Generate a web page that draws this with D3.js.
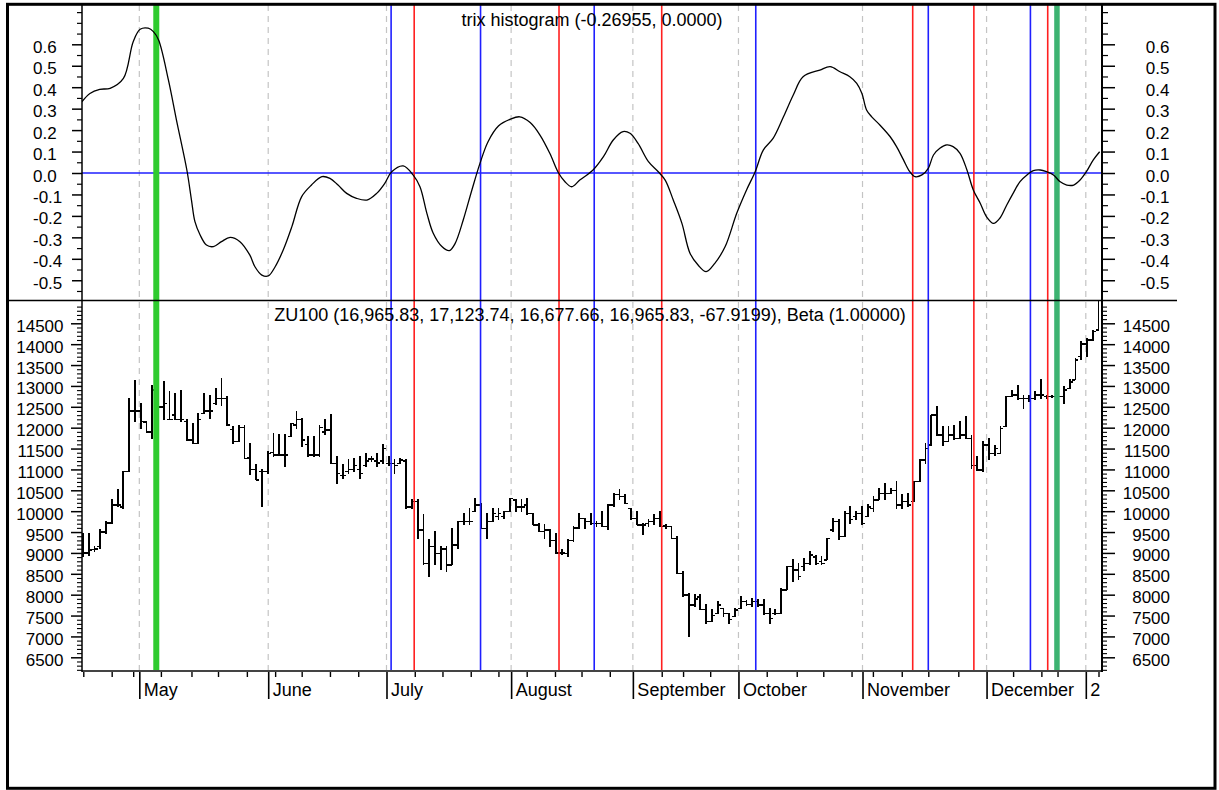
<!DOCTYPE html>
<html><head><meta charset="utf-8">
<script src="https://cdn.jsdelivr.net/npm/d3@7/dist/d3.min.js"></script>
<style>
html,body{margin:0;padding:0;background:#fff;}
svg{display:block;font-family:"Liberation Sans",Arial,sans-serif;}
</style></head><body>
<svg id="chart" width="1219" height="790"></svg>
<script>
// ---------- DATA ----------
const opens = [9400,9000,9080,9150,9500,9720,10150,10100,10950,12400,
12400,12140,11900,12900,12500,12200,12300,12200,12150,11700,
11625,12344,12400,12580,12700,12700,11960,11665,12000,11270,
11000,10950,10950,11400,11350,11350,11785,12064,12200,11600,
11346,11346,11900,11950,11146,10850,10950,11000,11000,11100,
11250,11200,11200,11146,11146,11146,11200,10100,10229,9550,
8752,9151,8991,9100,8712,9191,9750,9750,9990,10149,
9590,9750,9870,9870,9990,10269,10100,10150,9950,9670,
9510,9550,9300,9000,8991,9300,9600,9830,9750,9700,
9700,9630,10149,10400,10350,10069,9830,9670,9700,9750,
9830,9650,9630,9350,8513,7993,7754,7950,7650,7355,
7554,7674,7554,7474,7674,7834,7760,7833,7753,7554,
7554,7554,8112,8671,8591,8671,8750,8900,8800,8831,
9550,9750,9390,9950,9870,9950,9868,10068,10268,10427,
10427,10500,10148,10228,10228,10707,11226,11585,12303,11824,
11665,11825,11745,11825,11745,11100,10986,11585,11385,11385,
12024,12743,12782,12703,12703,12703,12782,12743,12743,12743,
12743,12942,13142,13700,14000,14100,14339];
const highs = [9470,9470,9150,9550,9750,10270,10510,10950,12700,13140,
12580,12140,13020,13050,13100,12860,12820,12900,12185,12105,
12344,12820,12780,12940,13180,12743,12024,12064,12064,11625,
11107,10987,11426,11865,11825,11825,12105,12384,12224,11785,
11785,12064,12184,12304,11306,11107,11226,11266,11306,11386,
11306,11386,11586,11300,11226,11266,11226,10268,10269,9909,
9311,9510,9151,9151,9590,9750,9950,10069,10309,10189,
9950,10069,10069,9990,10309,10269,10269,10309,9950,9710,
9670,9550,9470,9071,9311,9630,9950,9830,9950,9750,
9990,10149,10429,10508,10389,10069,9990,9710,9790,9910,
9990,9670,9630,9390,8553,8033,7993,7993,7754,7634,
7834,7674,7554,7674,7953,7850,7913,7873,7873,7673,
7633,8152,8671,8831,8751,8871,9030,8950,8911,9350,
9829,9789,9988,10108,9988,10108,10148,10348,10547,10667,
10547,10707,10388,10427,10707,11226,11625,12303,12503,12024,
12024,12064,12144,12264,11824,11306,11665,11745,11585,12024,
12743,12902,13022,12782,12782,12862,13142,12782,12760,12760,
12982,13142,13660,14060,14139,14339,17124];
const lows = [8911,8950,9030,9110,9470,9710,10110,10070,10950,12140,
11985,11900,11745,12150,12185,12185,12185,12144,11700,11625,
11625,12344,12224,12560,12543,12064,11625,11665,11266,10867,
10747,10108,10907,11306,11346,11067,11785,11985,11545,11306,
11306,11306,11825,11146,10667,10787,10907,10947,10787,11067,
11186,11067,11146,11100,10907,11146,10069,10069,9350,8712,
8433,8712,8592,8552,8712,9111,9670,9670,9989,9590,
9350,9750,9790,9830,9990,9990,9990,9910,9670,9510,
9350,9151,8991,8952,8911,9271,9590,9590,9670,9630,
9630,9550,10109,10269,10189,9790,9670,9430,9630,9670,
9630,9590,9350,8513,7953,6996,7714,7634,7315,7355,
7554,7474,7315,7474,7674,7740,7713,7713,7514,7314,
7514,7554,8112,8312,8352,8591,8711,8711,8711,8831,
9509,9310,9390,9709,9789,9669,9868,9988,10268,10268,
10427,10068,10068,10108,10228,10707,11146,11585,11824,11585,
11665,11705,11745,11745,11026,10986,10946,11226,11345,11385,
12024,12743,12663,12463,12623,12663,12703,12703,12720,12700,
12583,12942,13142,13621,13700,14100,14339];
const closes = [9000,9071,9100,9500,9720,10150,10150,10950,12400,12400,
12144,11900,12900,12500,12583,12200,12200,12200,11700,11625,
12200,12400,12400,12700,12700,12070,11665,12000,11266,11000,
10747,10950,11386,11346,11350,11346,12105,12200,11700,11346,
11346,12000,11950,11146,10900,10850,11000,11100,10900,11200,
11250,11150,11500,11146,11100,11226,10100,10229,9550,8752,
9151,8991,9100,8712,9191,9750,9750,9750,10149,9590,
9750,9950,9950,9990,10309,10100,10100,9950,9670,9510,
9550,9300,9000,9000,9300,9600,9830,9750,9700,9700,
9630,10149,10400,10350,10189,9830,9670,9670,9750,9830,
9630,9630,9350,8513,7993,7754,7900,7650,7355,7500,
7754,7550,7400,7634,7834,7760,7833,7753,7554,7434,
7554,8112,8671,8591,8431,8751,8950,8750,8750,9350,
9750,9390,9950,9800,9950,9700,10100,10268,10427,10427,
10500,10148,10228,10148,10707,11226,11500,12303,11824,11665,
11825,11745,11825,11745,11100,10986,11585,11385,11500,11985,
12743,12782,12703,12703,12703,12782,12782,12743,12743,12743,
12900,13100,13620,14000,14100,14300,16966];

// TRIX histogram curve: bar position (trading-day index) and value
const trixIdx = [-0.2,1.2,2.9,4.7,7.0,8.7,9.9,11.3,12.2,13.1,
14.8,16.2,18.0,18.8,19.4,20.3,21.4,22.6,24.0,25.5,
27.2,28.9,29.8,31.0,32.1,33.3,34.7,36.2,37.9,39.6,
41.4,42.8,44.2,45.7,47.4,49.2,50.9,52.3,53.5,55.5,
57.2,58.4,59.6,60.7,62.2,63.5,64.5,65.9,67.4,68.8,
70.2,72.0,74.0,75.7,77.5,79.2,80.9,82.4,83.5,84.7,
86.1,88.4,90.2,91.9,93.6,94.8,96.2,98.0,99.7,100.9,
102.3,103.8,105.2,106.6,108.0,109.5,111.3,113.3,115.0,116.5,
117.9,119.6,121.4,123.1,124.8,127.7,129.5,131.2,132.9,134.1,
135.0,135.8,136.7,138.1,139.9,141.0,142.2,143.3,144.2,145.4,
146.5,147.4,148.5,149.7,150.8,152.0,153.2,154.3,155.5,156.6,
157.8,158.9,160.1,161.2,162.4,163.6,164.7,165.9,167.0,168.2,
169.3,170.5,171.7,172.8,173.9,175.1,176.2];
const trixVal = [0.332,0.371,0.39,0.395,0.441,0.612,0.67,0.675,0.659,0.62,
0.434,0.247,0.014,-0.126,-0.227,-0.289,-0.336,-0.343,-0.32,-0.30,
-0.32,-0.382,-0.437,-0.476,-0.48,-0.437,-0.359,-0.25,-0.11,-0.056,
-0.017,-0.025,-0.056,-0.095,-0.118,-0.126,-0.095,-0.048,0.006,0.033,
-0.009,-0.064,-0.188,-0.281,-0.343,-0.362,-0.328,-0.219,-0.079,0.045,
0.146,0.219,0.25,0.262,0.235,0.177,0.092,0.001,-0.04,-0.064,
-0.033,0.014,0.076,0.154,0.193,0.185,0.138,0.053,0.006,-0.033,
-0.126,-0.235,-0.374,-0.429,-0.46,-0.421,-0.343,-0.188,-0.079,0.006,
0.107,0.161,0.262,0.364,0.449,0.48,0.496,0.472,0.449,0.418,
0.371,0.294,0.262,0.224,0.169,0.123,0.061,0.006,-0.017,-0.009,
0.022,0.084,0.115,0.131,0.123,0.092,0.014,-0.079,-0.141,-0.204,
-0.235,-0.211,-0.149,-0.095,-0.04,-0.009,0.011,0.014,0.006,-0.009,
-0.04,-0.056,-0.056,-0.033,0.006,0.061,0.099];

// signal markers (bar index)
const blueSignals = [53.4, 68.9, 88.6, 116.6, 146.5, 164.2];
const redSignals = [57.4, 82.5, 100.3, 143.8, 154.4, 167.2];
const limeSignals = [12.7];
const seaSignals = [168.8];

// time axis
const monthIdx = [9.76, 32.1, 52.6, 74.2, 95.3, 113.6, 135.1, 156.6, 173.8];
const monthNames = ["May","June","July","August","September","October","November","December","2"];
const weekIdx = [0.05,4.97,8.7,13.5,18.8,23.4,28.4,33.3,37.9,42.8,47.7,57.5,62.3,67.2,72.0,76.9,81.8,86.4,91.3,100.3,104.0,108.7,118.5,123.7,128.3,133.2,136.9,141.9,146.5,151.7,161.2,166.1,168.9,176.0];

// value axes
const trixTicks = [-0.5,-0.4,-0.3,-0.2,-0.1,0.0,0.1,0.2,0.3,0.4,0.5,0.6];
const trixMinor = [-0.55,-0.45,-0.35,-0.25,-0.15,-0.05,0.05,0.15,0.25,0.35,0.45,0.55,0.65,0.7,0.75];
const priceTicks = [6500,7000,7500,8000,8500,9000,9500,10000,10500,11000,11500,12000,12500,13000,13500,14000,14500];
const priceMinorStep = 100;

const topTitle = "trix histogram (-0.26955, 0.0000)";
const botTitle = "ZU100 (16,965.83, 17,123.74, 16,677.66, 16,965.83, -67.9199), Beta (1.00000)";

// ---------- LAYOUT ----------
const W = 1219, H = 790;
const L = 82, R = 1102, T = 5, MID = 300.5, B = 671;
const svg = d3.select("#chart");
const x = d3.scaleLinear().domain([0, 176]).range([83, 1098.5]);
const yT = d3.scaleLinear().domain([-0.5, 0.6]).range([280.25, 44.3]);
const yP = d3.scaleLinear().domain([6500, 14500]).range([657.3, 323.3]);

svg.append("rect").attr("width", W).attr("height", H).attr("fill", "#fff");
const defs = svg.append("defs");
defs.append("clipPath").attr("id", "clipTop").append("rect")
  .attr("x", L).attr("y", T).attr("width", R - L).attr("height", MID - T);
defs.append("clipPath").attr("id", "clipBot").append("rect")
  .attr("x", L).attr("y", MID + 0.5).attr("width", R - L).attr("height", B - MID - 0.5);

// month dashed lines
svg.append("g").selectAll("line").data(monthIdx).join("line")
  .attr("x1", d => x(d)).attr("x2", d => x(d)).attr("y1", T).attr("y2", B)
  .attr("stroke", "#c4c4c4").attr("stroke-width", 1.2).attr("stroke-dasharray", "6,5");

// OHLC bars
const idx = d3.range(closes.length);
const gb = svg.append("g").attr("clip-path", "url(#clipBot)").attr("stroke", "#000").attr("shape-rendering", "crispEdges");
gb.selectAll("line.v").data(idx).join("line").attr("class", "v")
  .attr("x1", i => x(i)).attr("x2", i => x(i))
  .attr("y1", i => yP(highs[i]) - 0.5).attr("y2", i => yP(lows[i]) + 0.5)
  .attr("stroke-width", 1.8);
gb.selectAll("line.o").data(idx).join("line").attr("class", "o")
  .attr("x1", i => x(i) - 3).attr("x2", i => x(i))
  .attr("y1", i => yP(opens[i])).attr("y2", i => yP(opens[i]))
  .attr("stroke-width", 1.5);
gb.selectAll("line.c").data(idx).join("line").attr("class", "c")
  .attr("x1", i => x(i)).attr("x2", i => x(i) + 3)
  .attr("y1", i => yP(closes[i])).attr("y2", i => yP(closes[i]))
  .attr("stroke-width", 1.5);

// zero line
svg.append("line").attr("x1", L).attr("x2", R).attr("y1", yT(0)).attr("y2", yT(0))
  .attr("stroke", "#1f1fff").attr("stroke-width", 1.5);

// signal lines
function vlines(data, color, width) {
  svg.append("g").selectAll("line").data(data).join("line")
    .attr("x1", d => x(d)).attr("x2", d => x(d)).attr("y1", T).attr("y2", B)
    .attr("stroke", color).attr("stroke-width", width);
}
vlines(blueSignals, "#1f1fff", 1.6);
vlines(redSignals, "#ff1f1f", 1.6);
vlines(limeSignals, "#2ecb2e", 6);
vlines(seaSignals, "#3cb371", 5.5);

// TRIX line
const tIdx = d3.range(trixIdx.length);
svg.append("path").attr("clip-path", "url(#clipTop)")
  .attr("d", d3.line().x(i => x(trixIdx[i])).y(i => yT(trixVal[i])).curve(d3.curveCatmullRom)(tIdx))
  .attr("fill", "none").attr("stroke", "#000").attr("stroke-width", 1.3);

// ---------- AXES ----------
const fmt1 = v => (Math.abs(v) < 1e-9 ? 0 : v).toFixed(1);
function styleAxis(g, sw) {
  g.select(".domain").remove();
  g.selectAll(".tick line").attr("stroke", "#000").attr("stroke-width", sw);
  g.selectAll("text").attr("fill", "#000").attr("font-family", '"Liberation Sans", Arial, sans-serif').attr("font-size", 17);
}
// top panel left
let g = svg.append("g").attr("transform", `translate(${L},0)`)
  .call(d3.axisLeft(yT).tickValues(trixMinor).tickSize(5).tickFormat(""));
styleAxis(g, 1.2);
g = svg.append("g").attr("transform", `translate(${L},0)`)
  .call(d3.axisLeft(yT).tickValues(trixTicks).tickSize(10).tickFormat(fmt1));
styleAxis(g, 1.5);
g.selectAll("text").attr("text-anchor", "start").attr("x", 33 - L).attr("dy", "0.47em");
// top panel right
g = svg.append("g").attr("transform", `translate(${R},0)`)
  .call(d3.axisRight(yT).tickValues(trixMinor).tickSize(6).tickFormat(""));
styleAxis(g, 1.2);
g = svg.append("g").attr("transform", `translate(${R},0)`)
  .call(d3.axisRight(yT).tickValues(trixTicks).tickSize(13).tickFormat(fmt1));
styleAxis(g, 1.5);
g.selectAll("text").attr("text-anchor", "end").attr("x", 1169.5 - R).attr("dy", "0.47em");

// bottom panel
const pMinor = d3.range(6200, 15001, priceMinorStep).filter(v => v % 500 !== 0);
const fmtP = v => String(v);
g = svg.append("g").attr("transform", `translate(${L},0)`)
  .call(d3.axisLeft(yP).tickValues(pMinor).tickSize(5).tickFormat(""));
styleAxis(g, 1.1);
g = svg.append("g").attr("transform", `translate(${L},0)`)
  .call(d3.axisLeft(yP).tickValues(priceTicks).tickSize(11).tickFormat(fmtP));
styleAxis(g, 1.5);
g.selectAll("text").attr("text-anchor", "end").attr("x", 63.5 - L).attr("dy", "0.47em");
g = svg.append("g").attr("transform", `translate(${R},0)`)
  .call(d3.axisRight(yP).tickValues(pMinor).tickSize(5).tickFormat(""));
styleAxis(g, 1.1);
g = svg.append("g").attr("transform", `translate(${R},0)`)
  .call(d3.axisRight(yP).tickValues(priceTicks).tickSize(13).tickFormat(fmtP));
styleAxis(g, 1.5);
g.selectAll("text").attr("text-anchor", "end").attr("x", 1170 - R).attr("dy", "0.47em");

// x axis
g = svg.append("g").attr("transform", `translate(0,${B})`)
  .call(d3.axisBottom(x).tickValues(weekIdx).tickSize(6).tickFormat(""));
styleAxis(g, 1.4);
g = svg.append("g").attr("transform", `translate(0,${B})`)
  .call(d3.axisBottom(x).tickValues(monthIdx).tickSize(28).tickFormat((d, i) => monthNames[i]));
styleAxis(g, 1.6);
g.selectAll("text").attr("text-anchor", "start").attr("x", 4).attr("y", 25).attr("dy", 0).attr("font-size", 18);
svg.append("line").attr("x1", L).attr("x2", R).attr("y1", B).attr("y2", B)
  .attr("stroke", "#444").attr("stroke-width", 2);

// axis lines
svg.append("line").attr("x1", L).attr("x2", L).attr("y1", T - 1).attr("y2", B + 1).attr("stroke", "#000").attr("stroke-width", 1.5);
svg.append("line").attr("x1", R).attr("x2", R).attr("y1", T - 1).attr("y2", B + 1).attr("stroke", "#000").attr("stroke-width", 2);
// panel separator
svg.append("line").attr("x1", 7).attr("x2", 1177).attr("y1", MID).attr("y2", MID).attr("stroke", "#000").attr("stroke-width", 1.5);

// titles
svg.append("text").attr("x", (L + R) / 2).attr("y", 25.5).attr("text-anchor", "middle")
  .attr("font-size", 18).attr("fill", "#000").text(topTitle);
svg.append("text").attr("x", (L + R) / 2 - 2).attr("y", 320.5).attr("text-anchor", "middle")
  .attr("font-size", 18).attr("fill", "#000").text(botTitle);

// outer border
svg.append("rect").attr("x", 7.5).attr("y", 4.3).attr("width", 1207.5).attr("height", 784)
  .attr("fill", "none").attr("stroke", "#000").attr("stroke-width", 3);
</script>
</body></html>
